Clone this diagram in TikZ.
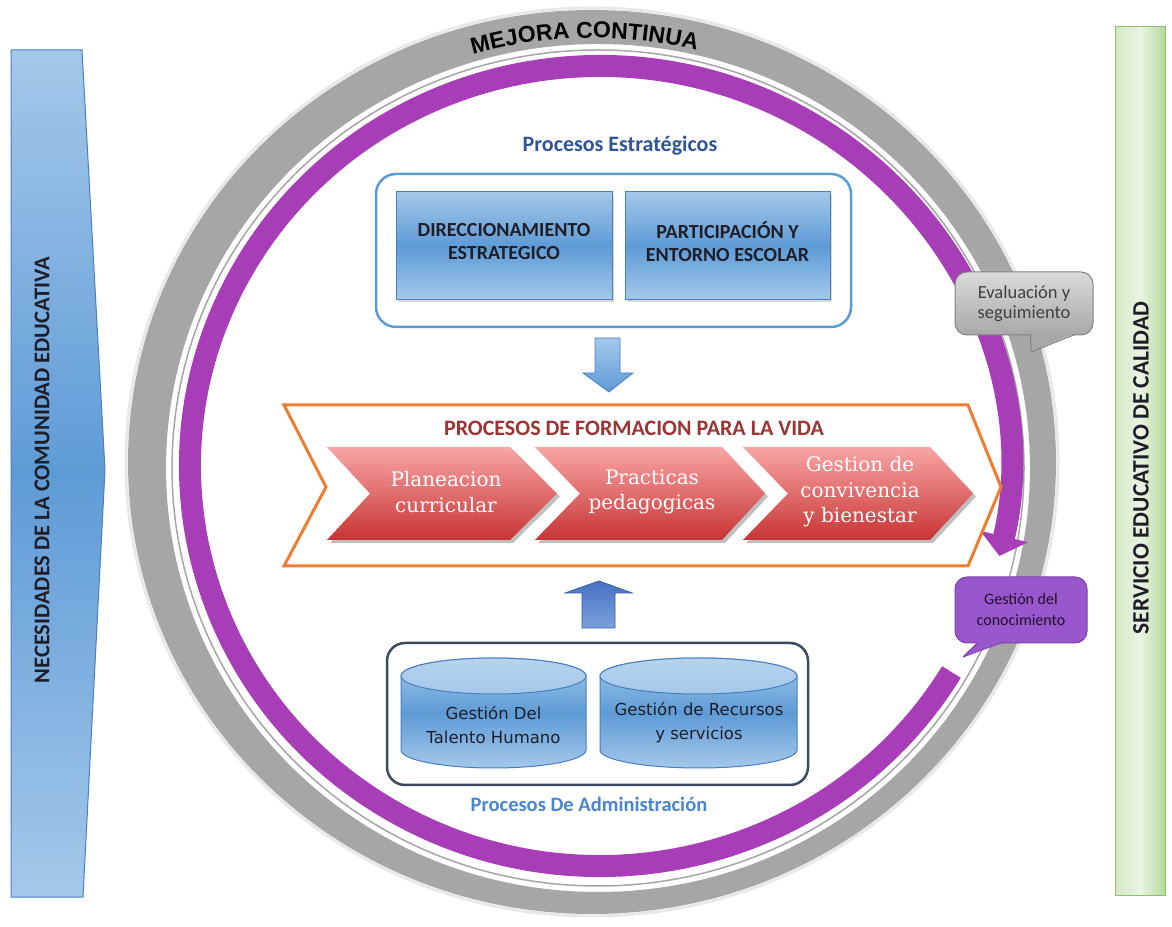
\documentclass[tikz,border=0pt]{standalone}
\usepackage{fontspec}
\setmainfont{Carlito}
\newfontfamily\serifx{DejaVu Serif}
\newfontfamily\cylfont{DejaVu Sans}
\newfontfamily\mejfont{Liberation Sans Bold}
\usetikzlibrary{arrows.meta,decorations.text,calc,shadows}
\definecolor{ringgray}{HTML}{A6A6A6}
\definecolor{purp}{HTML}{A83DB8}
\definecolor{bluebd}{HTML}{5B9BD5}
\definecolor{boxbd}{HTML}{4A7FBF}
\definecolor{bluelt}{HTML}{A4C8EA}
\definecolor{bluemd}{HTML}{5E9BD6}
\definecolor{boxtext}{HTML}{1E1E28}
\definecolor{orangebd}{HTML}{ED7D31}
\definecolor{redtop}{HTML}{F8A5A5}
\definecolor{redbot}{HTML}{C83434}
\definecolor{titlered}{HTML}{9B3432}
\definecolor{titleblue}{HTML}{2F5597}
\definecolor{admblue}{HTML}{4A86CF}
\definecolor{navybd}{HTML}{3B4A5E}
\definecolor{greenbd}{HTML}{8CC26A}
\definecolor{greenlt}{HTML}{D3E8C4}
\definecolor{greenwh}{HTML}{E9F4E2}
\definecolor{greenrt}{HTML}{B5D99B}
\definecolor{uptop}{HTML}{4472C4}
\definecolor{upbot}{HTML}{7DA0DE}
\definecolor{evaltop}{HTML}{DADADA}
\definecolor{evalbot}{HTML}{A8A8A8}
\definecolor{evalbd}{HTML}{808080}
\definecolor{gcfill}{HTML}{9A57CD}
\definecolor{gcbd}{HTML}{7B3FB0}
\begin{document}
\begin{tikzpicture}[x=1pt,y=1pt,
  bluebox/.style={draw=boxbd, line width=1, top color=bluelt, bottom color=bluelt, middle color=bluemd,
    drop shadow={opacity=0.3, shadow xshift=2pt, shadow yshift=-2pt}},
  boxlabel/.style={align=center, text=boxtext, font=\bfseries\fontsize{20}{23}\selectfont, inner sep=0pt},
  redchev/.style={top color=redtop, bottom color=redbot},
  chevtext/.style={text=white, align=center, font=\serifx\fontsize{20}{25.5}\selectfont},
  cylbody/.style={draw=boxbd, line width=1, top color=bluelt, bottom color=bluelt, middle color=bluemd},
  cyltop/.style={draw=boxbd, line width=1, top color=bluelt!80!white, bottom color=bluelt},
  cyltext/.style={align=center, text=boxtext, font=\cylfont\fontsize{16.5}{24}\selectfont},
  sidetext/.style={rotate=90, text=boxtext}
]
\useasboundingbox (0,0) rectangle (1172,926);
\fill[white] (0,0) rectangle (1172,926);

% left blue band
\path[draw=boxbd, line width=1, top color=bluelt, bottom color=bluelt, middle color=bluemd]
  (11,876) -- (82,876) -- (105,456) -- (83,29) -- (11,29) -- cycle;
\node[sidetext, font=\bfseries\fontsize{22.5}{24}\selectfont] (need) at (42,456) {NECESIDADES DE LA COMUNIDAD EDUCATIVA};

% right green band
\path[draw=greenbd, line width=1, left color=greenlt, right color=greenrt, middle color=greenwh]
  (1115,31) rectangle (1165,899);
\node[sidetext, font=\bfseries\fontsize{23.5}{25}\selectfont] (serv) at (1141,458) {SERVICIO EDUCATIVO DE CALIDAD};

% gray ring
\draw[gray!18, line width=3] (592,464) ellipse [x radius=466, y radius=454];
\fill[ringgray, even odd rule] (592,464) ellipse [x radius=464, y radius=452]
  (598,458) ellipse [x radius=432, y radius=424];
\draw[ringgray, line width=1.5] (598,458) ellipse [x radius=426, y radius=418];

% ring label
\path[decorate, decoration={text along path, text align=center,
  text={|\mejfont\fontsize{23}{23}\selectfont|MEJORA CONTINUA}}]
  ($(592,464)+(125:434 and 424)$) arc[start angle=125, end angle=57, x radius=434, y radius=424];

% purple cycle arrow
\draw[purp, line width=22, -{Triangle[width=48pt,length=20pt]}]
  ($(600,460)+(-31:410 and 400)$) arc[start angle=-31, end angle=-373, x radius=410, y radius=400];

% strategic processes
\node[text=titleblue, font=\bfseries\fontsize{22}{24}\selectfont] (pe) at (620,780) {Procesos Estratégicos};
\node[draw=bluebd, line width=2.5, rounded corners=20, fill=white, minimum width=475, minimum height=153] (topbox) at (613.5,675.5) {};
\node[bluebox, minimum width=216, minimum height=108] (dir) at (504,680) {};
\node[boxlabel] (dirtxt) at (504,684) {DIRECCIONAMIENTO\\ESTRATEGICO};
\node[bluebox, minimum width=205, minimum height=108] (part) at (727.5,680) {};
\node[boxlabel] (parttxt) at (727.5,684) {PARTICIPACIÓN Y\\ENTORNO ESCOLAR};

% down arrow
\path[draw=boxbd, line width=0.8, top color=bluelt, bottom color=bluemd]
  (595,588) -- (620,588) -- (620,553) -- (633,553) -- (609,534) -- (583,553) -- (595,553) -- cycle;

% formation processes chevron
\draw[orangebd, line width=3, fill=white, line join=miter]
  (284,521) -- (968,521) -- (1001,439) -- (968,360) -- (284,360) -- (326,439) -- cycle;
\node[text=titlered, font=\bfseries\fontsize{22}{24}\selectfont] (pfv) at (634,498) {PROCESOS DE FORMACION PARA LA VIDA};

\begin{scope}[shift={(3,-3)}]
\fill[black!25] (327,479) -- (510,479) -- (557,432.5) -- (510,386) -- (327,386) -- (370,432.5) -- cycle;
\fill[black!25] (535,479) -- (722,479) -- (765,432.5) -- (722,386) -- (535,386) -- (580,432.5) -- cycle;
\fill[black!25] (743,479) -- (930,479) -- (973,432.5) -- (930,386) -- (743,386) -- (788,432.5) -- cycle;
\end{scope}
\path[redchev] (327,479) -- (510,479) -- (557,432.5) -- (510,386) -- (327,386) -- (370,432.5) -- cycle;
\path[redchev] (535,479) -- (722,479) -- (765,432.5) -- (722,386) -- (535,386) -- (580,432.5) -- cycle;
\path[redchev] (743,479) -- (930,479) -- (973,432.5) -- (930,386) -- (743,386) -- (788,432.5) -- cycle;
\node[chevtext] (plan) at (446,434) {Planeacion\\curricular};
\node[chevtext] (prac) at (652,434) {Practicas\\pedagogicas};
\node[chevtext] (gest) at (860,434) {Gestion de\\convivencia\\y bienestar};

% up arrow
\path[draw=uptop!80!black, line width=0.8, top color=uptop, bottom color=upbot]
  (582,298) -- (615,298) -- (615,333) -- (632,333) -- (599,345) -- (565,333) -- (582,333) -- cycle;

% administration processes
\node[draw=navybd, line width=2.5, rounded corners=18, minimum width=421, minimum height=142] (admbox) at (597.5,212) {};
\path[cylbody] (401,250) -- (401,176) arc[start angle=180, end angle=360, x radius=92.5, y radius=18]
  -- (586,250) arc[start angle=0, end angle=180, x radius=92.5, y radius=18] -- cycle;
\path[cyltop] (493.5,250) ellipse [x radius=92.5, y radius=18];
\path[cylbody] (600,250) -- (600,176) arc[start angle=180, end angle=360, x radius=98.5, y radius=18]
  -- (797,250) arc[start angle=0, end angle=180, x radius=98.5, y radius=18] -- cycle;
\path[cyltop] (698.5,250) ellipse [x radius=98.5, y radius=18];
\node[cyltext] (talento) at (493.5,201) {Gestión Del\\Talento Humano};
\node[cyltext] (recursos) at (699,203) {Gestión de Recursos\\y servicios};
\node[text=admblue, font=\bfseries\fontsize{20.5}{22}\selectfont] (pa) at (589,122) {Procesos De Administración};

% callouts
\node[draw=evalbd, line width=1, rounded corners=12, top color=evaltop, bottom color=evalbot,
  minimum width=138, minimum height=63, align=center, text=black!75,
  font=\fontsize{18.5}{20}\selectfont] (eval) at (1024,622.5) {Evaluación y\\seguimiento};
\fill[evalbot] (1030.5,592.5) -- (1031,574.5) -- (1075,592.5) -- cycle;
\draw[evalbd, line width=1, line join=round] (1030.5,591.5) -- (1031,574) -- (1075,591.5);

\node[draw=gcbd, line width=1, rounded corners=12, fill=gcfill,
  minimum width=132, minimum height=66, align=center, text=black!80!gcfill,
  font=\fontsize{16}{21}\selectfont] (gc) at (1021,316) {Gestión del\\conocimiento};
\fill[gcfill] (978,284) -- (963,269.5) -- (1002,284) -- cycle;
\draw[gcbd, line width=1, line join=round] (978,283.5) -- (963,269) -- (1002,283.5);
\end{tikzpicture}
\end{document}
